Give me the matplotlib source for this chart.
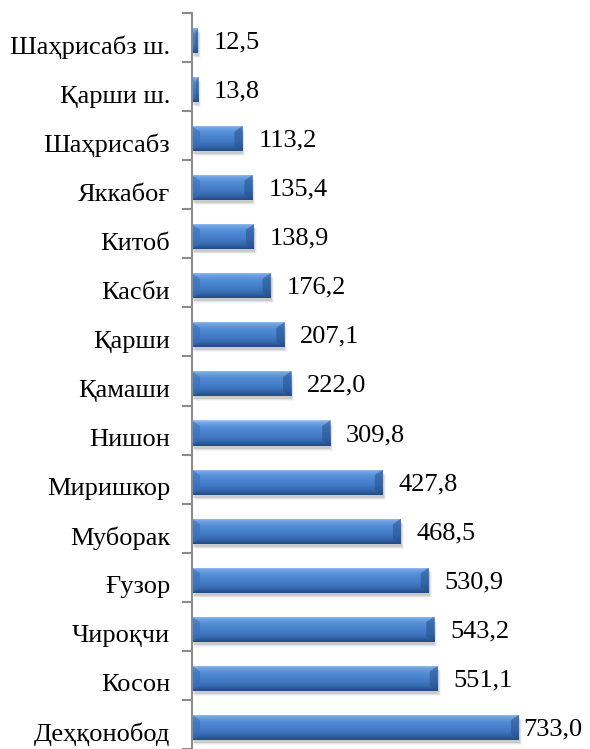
import numpy as np
import matplotlib
matplotlib.use("Agg")
import matplotlib.pyplot as plt
from matplotlib.colors import LinearSegmentedColormap
from matplotlib.patches import Rectangle, Polygon
import matplotlib.transforms as mtransforms

categories = ["Шаҳрисабз ш.", "Қарши ш.", "Шаҳрисабз", "Яккабоғ", "Китоб",
              "Касби", "Қарши", "Қамаши", "Нишон", "Миришкор", "Муборак",
              "Ғузор", "Чироқчи", "Косон", "Деҳқонобод"]
values = [12.5, 13.8, 113.2, 135.4, 138.9, 176.2, 207.1, 222.0, 309.8,
          427.8, 468.5, 530.9, 543.2, 551.1, 733.0]

plt.rcParams['font.family'] = ['Liberation Serif', 'DejaVu Serif']

W, H, DPI = 590, 749, 100
fig = plt.figure(figsize=(W / DPI, H / DPI), dpi=DPI)
ax_left = 192 / W
ax_top = 1 - 13 / H
ax = fig.add_axes([ax_left, 0.0, 1 - ax_left, ax_top])

px_per_unit = 0.446
xmax = (W - 192) / px_per_unit
ax.set_xlim(0, xmax)
ax.set_ylim(14.39, -0.56)

ypos = np.arange(len(categories))
bar_h = 0.51
bars = ax.barh(ypos, values, height=bar_h, color='#4a80c8', edgecolor='none', zorder=3)

cmap = LinearSegmentedColormap.from_list(
    "bevel", [(0.0, '#a4c8f2'), (0.10, '#6fa3e4'), (0.3, '#538dd6'),
              (0.65, '#4179c4'), (0.85, '#3263a7'), (1.0, '#234a82')])
grad = np.linspace(0, 1, 64).reshape(-1, 1)

for b in bars:
    x0, y0 = b.get_x(), b.get_y()
    w, h = b.get_width(), b.get_height()
    for i, a in enumerate([0.10, 0.07, 0.04]):
        off = mtransforms.offset_copy(ax.transData, fig=fig, x=1 + i, y=-(3 + i), units='dots')
        ax.add_patch(Rectangle((x0, y0), w, h, facecolor='#000000', alpha=a,
                               edgecolor='none', transform=off, zorder=2))
    im = ax.imshow(grad, cmap=cmap, aspect='auto', extent=[x0, x0 + w, y0 + h, y0],
                   zorder=3.5, interpolation='bilinear')
    im.set_clip_path(b)
    bev = min(8 / px_per_unit, w * 0.4)
    ax.add_patch(Polygon([[x0 + w - bev, y0 + h * 0.22], [x0 + w, y0],
                          [x0 + w, y0 + h], [x0 + w - bev, y0 + h * 0.78]],
                         closed=True, facecolor='#24508c', alpha=0.55,
                         edgecolor='none', zorder=4))
    ax.add_patch(Polygon([[x0, y0], [x0 + bev, y0 + h * 0.22],
                          [x0 + bev, y0 + h * 0.78], [x0, y0 + h]],
                         closed=True, facecolor='#3a70b8', alpha=0.6,
                         edgecolor='none', zorder=4))

vmax = max(values)
for yv, v in zip(ypos, values):
    lab = f"{v:.1f}".replace('.', ',')
    off_px = 4 if v == vmax else 16
    ax.annotate(lab, xy=(v, yv), xytext=(off_px * 72 / DPI, -2 * 72 / DPI),
                textcoords='offset points', ha='left', va='center',
                fontsize=19, color='black', zorder=5)

for yv, c in zip(ypos, categories):
    ax.annotate(c, xy=(0, yv), xytext=(-22 * 72 / DPI, -7 * 72 / DPI),
                textcoords='offset points', ha='right', va='center',
                fontsize=19, color='black', annotation_clip=False)

ax.set_yticks([])
ax.set_yticks(np.arange(len(categories) + 1) - 0.56, minor=True)
ax.tick_params(axis='y', which='minor', length=7, width=1.5, color='#8c8c8c', direction='out')

ax.set_xticks([])
for s in ['top', 'right', 'bottom']:
    ax.spines[s].set_visible(False)
ax.spines['left'].set_color('#8c8c8c')
ax.spines['left'].set_linewidth(1.5)
ax.spines['left'].set_zorder(6)
ax.patch.set_alpha(0)

fig.savefig("out.png", dpi=DPI)
